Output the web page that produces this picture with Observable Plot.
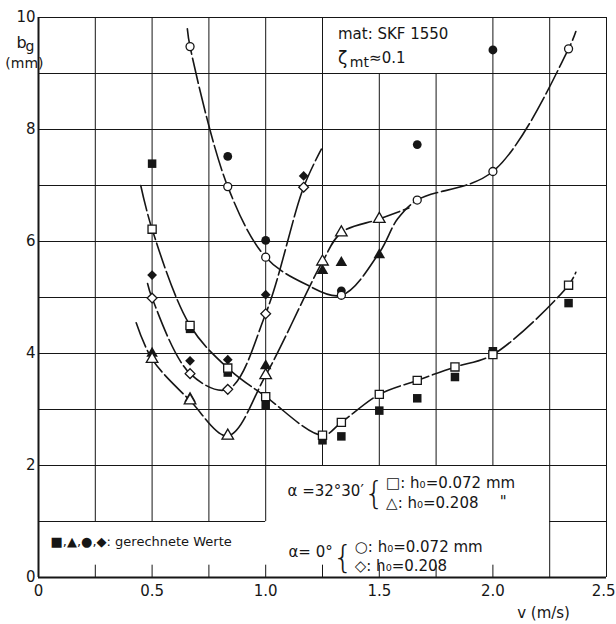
<!DOCTYPE html>
<html><head><meta charset="utf-8">
<script src="https://cdn.jsdelivr.net/npm/d3@7"></script>
<script src="https://cdn.jsdelivr.net/npm/@observablehq/plot@0.6"></script>
<style>body{margin:0;background:#fff}#chart{width:616px;height:624px}</style>
</head><body><div id="chart"></div>
<script>
// ---- tick values ----
const xTicks = [0, 0.5, 1.0, 1.5, 2.0];
const xLastTick = [2.5];
const yTicks = [0, 2, 4, 6, 8, 10];
const minorX = [0.25, 0.5, 0.75, 1.0, 1.25, 1.5, 1.75, 2.0];

// ---- grid segments of the printed chart (partial, interrupted by legend boxes) ----
const gridVx  = [0.25, 0.5, 0.75, 1.0, 1.25, 1.5, 1.75, 2.0, 2.25, 2.5];
const gridVlo = [1,    1,   1,    1,   2,    2,   2,    2,   0,    0];
const gridVhi = [10,   10,  10,   10,  10,   9,   9,    10,  10,   10];
const gridHy  = [1,   1,    2,   3,   4,   5,   6,   7,   8,   9,   10];
const gridHlo = [0,   2.25, 0,   0,   0,   0,   0,   0,   0,   0,   0];
const gridHhi = [1.0, 2.5,  2.5, 2.5, 2.5, 2.5, 2.5, 2.5, 2.5, 2.5, 2.5];

// ---- alpha = 32°30', h0 = 0.072 mm (squares) ----
const sqV     = [0.5, 0.667, 0.833, 1.0, 1.25, 1.333, 1.5, 1.667, 1.833, 2.0, 2.333];
const sqOpen  = [6.22, 4.50, 3.74, 3.23, 2.54, 2.77, 3.27, 3.52, 3.76, 3.98, 5.22];
const sqFill  = [7.39, 4.44, 3.66, 3.08, 2.45, 2.52, 2.98, 3.20, 3.58, 4.04, 4.90];
const sqCurveV = [0.45, 0.5, 0.667, 0.833, 1.0, 1.25, 1.333, 1.5, 1.667, 1.833, 2.0, 2.333, 2.365];
const sqCurveB = [7.0, 6.22, 4.50, 3.74, 3.23, 2.54, 2.77, 3.27, 3.52, 3.76, 3.98, 5.22, 5.45];

// ---- alpha = 32°30', h0 = 0.208 mm (triangles) ----
const triV    = [0.5, 0.667, 0.833, 1.0, 1.25, 1.333, 1.5];
const triOpen = [3.90, 3.16, 2.53, 3.61, 5.64, 6.16, 6.40];
const triFill = [4.00, 3.20, 2.53, 3.78, 5.48, 5.62, 5.76];
const triCurveV = [0.43, 0.5, 0.667, 0.833, 1.0, 1.25, 1.333, 1.5, 1.63];
const triCurveB = [4.55, 3.90, 3.16, 2.53, 3.61, 5.64, 6.16, 6.40, 6.60];

// ---- alpha = 0°, h0 = 0.072 mm (circles) ----
const circV     = [0.667, 0.833, 1.0, 1.333, 1.667, 2.0, 2.333];
const circOpen  = [9.48, 6.98, 5.72, 5.04, 6.74, 7.25, 9.44];
const circFillV = [0.833, 1.0, 1.333, 1.667, 2.0];
const circFill  = [7.52, 6.02, 5.12, 7.73, 9.42];
const circCurveV = [0.655, 0.667, 0.833, 1.0, 1.17, 1.333, 1.5, 1.58, 1.667, 2.0, 2.333, 2.365];
const circCurveB = [9.80, 9.48, 6.98, 5.72, 5.25, 5.04, 5.80, 6.40, 6.74, 7.25, 9.44, 9.75];

// ---- alpha = 0°, h0 = 0.208 mm (diamonds) ----
const diaV    = [0.5, 0.667, 0.833, 1.0, 1.167];
const diaOpen = [4.99, 3.64, 3.36, 4.71, 6.97];
const diaFill = [5.40, 3.87, 3.89, 5.05, 7.17];
const diaCurveV = [0.48, 0.5, 0.667, 0.833, 1.0, 1.167, 1.245];
const diaCurveB = [5.25, 4.99, 3.64, 3.36, 4.71, 6.97, 7.65];

// ---- helpers ----
const rows = (V, B) => V.map((v, i) => ({v, b: B[i]}));
const gridV = gridVx.map((x, i) => ({x, y1: gridVlo[i], y2: gridVhi[i]}));
const gridH = gridHy.map((y, i) => ({y, x1: gridHlo[i], x2: gridHhi[i]}));

const INK = "#161616";
const FONT = "'DejaVu Sans', sans-serif";
const curveOpts = {x: "v", y: "b", curve: "catmull-rom", stroke: INK, strokeWidth: 1.6, strokeDasharray: "26,4"};
const filled = (sym, r) => ({x: "v", y: "b", symbol: sym, r, fill: INK, stroke: "none"});
const hollow = (sym, r) => ({x: "v", y: "b", symbol: sym, r, fill: "white", stroke: INK, strokeWidth: 1.3});
const note = (txt, x, y, o = {}) => Plot.text([txt], {x: () => x, y: () => y, text: d => d, textAnchor: "start", fill: INK, ...o});
const fmt = d => d === 0 ? "0" : d.toFixed(1);

const chart = Plot.plot({
  width: 616, height: 624,
  marginLeft: 38, marginRight: 10, marginTop: 17, marginBottom: 47,
  style: {fontFamily: FONT, fontSize: "15px", background: "#fff", color: INK, overflow: "visible"},
  x: {domain: [0, 2.5]},
  y: {domain: [0, 10]},
  marks: [
    // grid
    Plot.ruleX(gridV, {x: "x", y1: "y1", y2: "y2", stroke: INK, strokeWidth: 1}),
    Plot.ruleY(gridH, {y: "y", x1: "x1", x2: "x2", stroke: INK, strokeWidth: 1}),
    Plot.ruleX(minorX, {x: d => d, y1: 0, y2: 0.22, stroke: INK, strokeWidth: 1}),
    // axes lines
    Plot.ruleX([0], {y1: 0, y2: 10, stroke: INK, strokeWidth: 2}),
    Plot.ruleY([0], {x1: 0, x2: 2.5, stroke: INK, strokeWidth: 2}),
    Plot.axisX({ticks: xTicks, tickSize: 0, tickPadding: 8, label: null, tickFormat: fmt, fontSize: 15}),
    Plot.axisX({ticks: xLastTick, tickSize: 0, tickPadding: 8, label: null, tickFormat: fmt, fontSize: 15, textAnchor: "end", dx: 9}),
    Plot.axisY({ticks: yTicks, tickSize: 0, tickPadding: 3, label: null, fontSize: 15}),
    // curves through the measured values
    Plot.line(rows(sqCurveV, sqCurveB), curveOpts),
    Plot.line(rows(triCurveV, triCurveB), curveOpts),
    Plot.line(rows(circCurveV, circCurveB), curveOpts),
    Plot.line(rows(diaCurveV, diaCurveB), curveOpts),
    // computed values (filled)
    Plot.dot(rows(sqV, sqFill), filled("square", 4.8)),
    Plot.dot(rows(triV, triFill), filled("triangle", 4.3)),
    Plot.dot(rows(circFillV, circFill), filled("circle", 4.4)),
    Plot.dot(rows(diaV, diaFill), filled("diamond2", 4.4)),
    // measured values (open)
    Plot.dot(rows(sqV, sqOpen), hollow("square", 4.6)),
    Plot.dot(rows(triV, triOpen), hollow("triangle", 4.3)),
    Plot.dot(rows(circV, circOpen), hollow("circle", 4.0)),
    Plot.dot(rows(diaV, diaOpen), hollow("diamond2", 4.4)),
    // y-axis label
    note("b", -0.075, 9.55, {textAnchor: "middle", fontSize: 16}),
    note("g", -0.038, 9.48, {textAnchor: "middle", fontSize: 14}),
    note("(mm)", -0.062, 9.18, {textAnchor: "middle", fontSize: 14}),
    // x-axis label
    note("v (m/s)", 2.223, -0.64, {textAnchor: "middle", fontSize: 15}),
    // material box
    note("mat: SKF 1550", 1.318, 9.71, {fontSize: 15}),
    note("ζ", 1.318, 9.27, {fontSize: 17}),
    note("mt", 1.37, 9.19, {fontSize: 14}),
    note("≈0.1", 1.455, 9.27, {fontSize: 15}),
    // legend α = 32°30'
    note("α =32°30′", 1.096, 1.55, {fontSize: 15}),
    note("{", 1.522, 1.5, {textAnchor: "end", fontSize: 32, fontWeight: 300}),
    note("□: h₀=0.072 mm", 1.53, 1.68, {fontSize: 15}),
    note("△: h₀=0.208", 1.53, 1.32, {fontSize: 15}),
    note("\"", 2.03, 1.34, {fontSize: 15}),
    // legend α = 0°
    note("α= 0°", 1.10, 0.45, {fontSize: 15}),
    note("{", 1.385, 0.36, {textAnchor: "end", fontSize: 32, fontWeight: 300}),
    note("○: h₀=0.072 mm", 1.392, 0.54, {fontSize: 15}),
    note("◇: h₀=0.208", 1.392, 0.2, {fontSize: 15}),
    // computed legend
    note("■,▲,●,◆: gerechnete Werte", 0.053, 0.64, {fontSize: 13})
  ]
});
document.getElementById("chart").appendChild(chart);
</script>
</body></html>
